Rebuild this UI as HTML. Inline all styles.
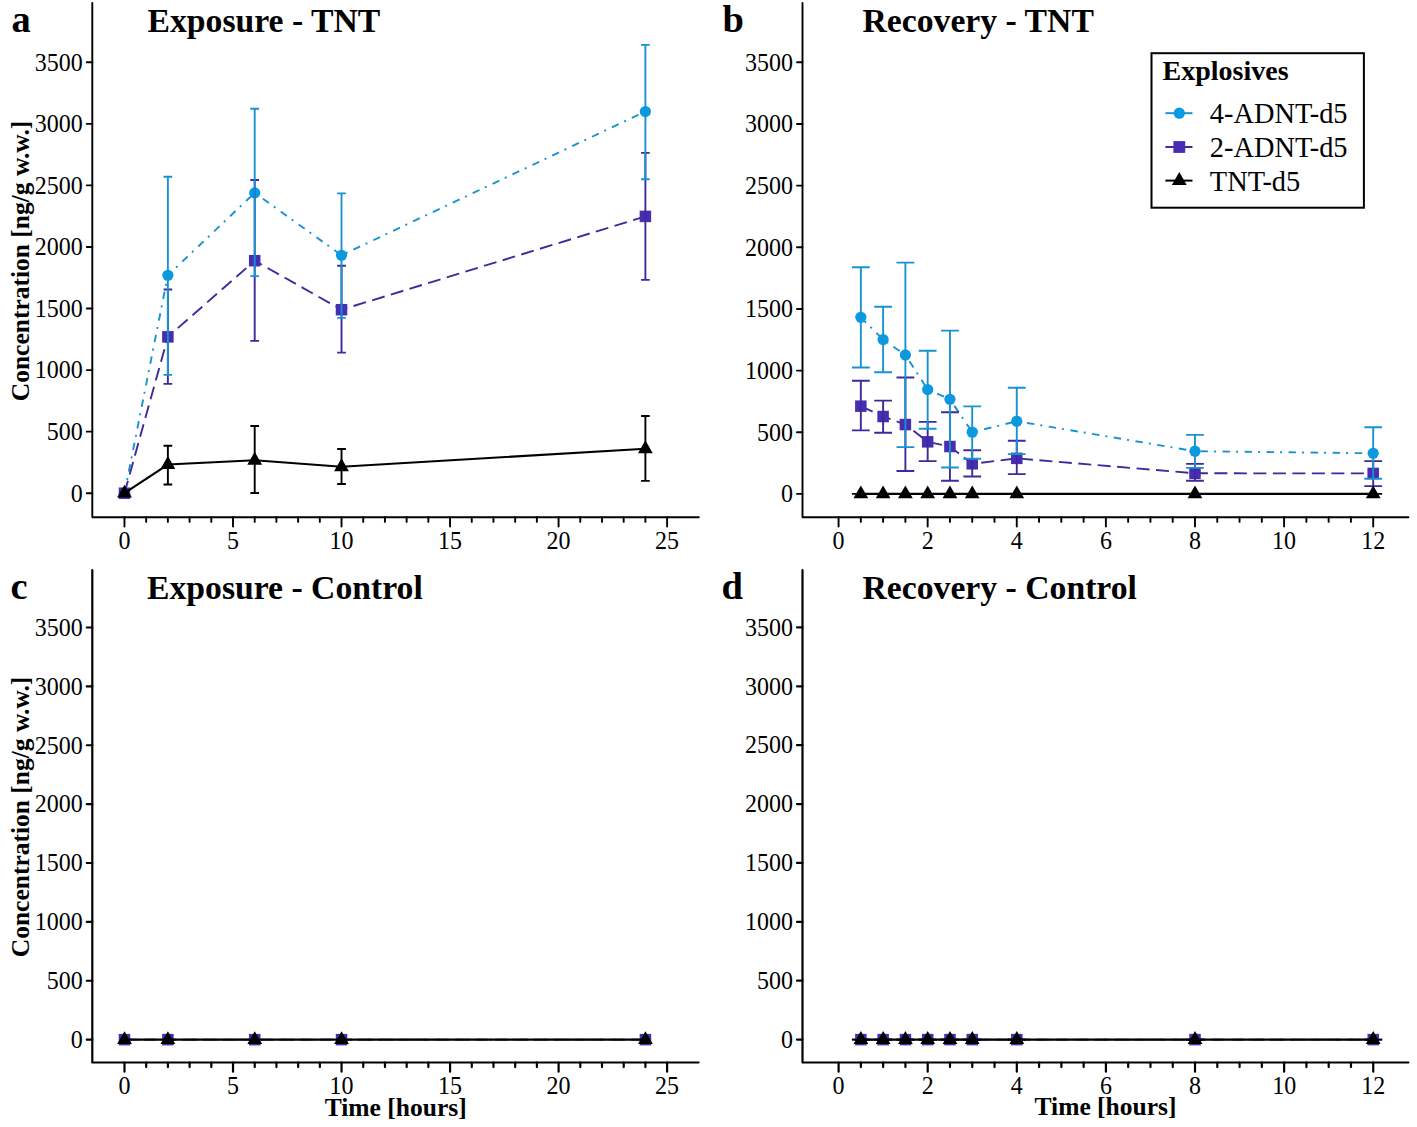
<!DOCTYPE html>
<html><head><meta charset="utf-8"><style>
html,body{margin:0;padding:0;background:#fff;}
svg{display:block;}
text{font-family:"Liberation Serif",serif;fill:#000;}
.tl{font-size:24px;}
.tt{font-size:33.7px;font-weight:bold;}
.pl{font-size:38.5px;font-weight:bold;}
.at{font-size:25.5px;font-weight:bold;}
.lt{font-size:28px;font-weight:bold;}
.ll{font-size:28.4px;}
</style></head><body>
<svg width="1417" height="1127" viewBox="0 0 1417 1127">
<rect width="1417" height="1127" fill="#fff"/>
<path d="M92.3 3V517.3H698.8" fill="none" stroke="#000" stroke-width="1.9" stroke-linecap="round" stroke-linejoin="round"/>
<path d="M86.8 493.2H92.3M86.8 431.64H92.3M86.8 370.09H92.3M86.8 308.53H92.3M86.8 246.97H92.3M86.8 185.41H92.3M86.8 123.86H92.3M86.8 62.3H92.3M124.47 517.3V526.5M146.18 517.3V521.9M167.88 517.3V521.9M189.58 517.3V521.9M211.29 517.3V521.9M233 517.3V526.5M254.7 517.3V521.9M276.4 517.3V521.9M298.11 517.3V521.9M319.81 517.3V521.9M341.52 517.3V526.5M363.23 517.3V521.9M384.93 517.3V521.9M406.63 517.3V521.9M428.34 517.3V521.9M450.04 517.3V526.5M471.75 517.3V521.9M493.45 517.3V521.9M515.16 517.3V521.9M536.87 517.3V521.9M558.57 517.3V526.5M580.27 517.3V521.9M601.98 517.3V521.9M623.68 517.3V521.9M645.39 517.3V521.9M667.1 517.3V526.5" stroke="#000" stroke-width="1.9" fill="none" stroke-linecap="round"/>
<text class="tl" text-anchor="end" transform="translate(82.7 501.5) scale(1 1.08)">0</text>
<text class="tl" text-anchor="end" transform="translate(82.7 439.94) scale(1 1.08)">500</text>
<text class="tl" text-anchor="end" transform="translate(82.7 378.39) scale(1 1.08)">1000</text>
<text class="tl" text-anchor="end" transform="translate(82.7 316.83) scale(1 1.08)">1500</text>
<text class="tl" text-anchor="end" transform="translate(82.7 255.27) scale(1 1.08)">2000</text>
<text class="tl" text-anchor="end" transform="translate(82.7 193.71) scale(1 1.08)">2500</text>
<text class="tl" text-anchor="end" transform="translate(82.7 132.16) scale(1 1.08)">3000</text>
<text class="tl" text-anchor="end" transform="translate(82.7 70.6) scale(1 1.08)">3500</text>
<text class="tl" text-anchor="middle" transform="translate(124.47 549.3) scale(1 1.08)">0</text>
<text class="tl" text-anchor="middle" transform="translate(233 549.3) scale(1 1.08)">5</text>
<text class="tl" text-anchor="middle" transform="translate(341.52 549.3) scale(1 1.08)">10</text>
<text class="tl" text-anchor="middle" transform="translate(450.04 549.3) scale(1 1.08)">15</text>
<text class="tl" text-anchor="middle" transform="translate(558.57 549.3) scale(1 1.08)">20</text>
<text class="tl" text-anchor="middle" transform="translate(667.1 549.3) scale(1 1.08)">25</text>
<polyline points="124.47,493.2 167.88,275.28 254.7,192.84 341.52,255.28 645.39,111.52" stroke="#1893cf" stroke-width="1.9" fill="none" stroke-dasharray="7.5 6 2 6.5"/>
<polyline points="124.47,493.2 167.88,336.85 254.7,260.71 341.52,309.7 645.39,216.41" stroke="#3d2a9c" stroke-width="1.9" fill="none" stroke-dasharray="13 6.5"/>
<circle cx="124.47" cy="493.2" r="5.6" fill="#089ae3"/><circle cx="167.88" cy="275.28" r="5.6" fill="#089ae3"/><circle cx="254.7" cy="192.84" r="5.6" fill="#089ae3"/><circle cx="341.52" cy="255.28" r="5.6" fill="#089ae3"/><circle cx="645.39" cy="111.52" r="5.6" fill="#089ae3"/>
<rect x="118.72" y="487.45" width="11.5" height="11.5" fill="#482cb2"/><rect x="162.13" y="331.1" width="11.5" height="11.5" fill="#482cb2"/><rect x="248.95" y="254.96" width="11.5" height="11.5" fill="#482cb2"/><rect x="335.77" y="303.95" width="11.5" height="11.5" fill="#482cb2"/><rect x="639.64" y="210.66" width="11.5" height="11.5" fill="#482cb2"/>
<path d="M120.12 493.2H128.82M120.12 493.2H128.82M167.88 289.47V383.87M163.53 289.47H172.23M163.53 383.87H172.23M254.7 180.01V340.92M250.35 180.01H259.05M250.35 340.92H259.05M341.52 265.77V352.65M337.17 265.77H345.87M337.17 352.65H345.87M645.39 152.86V279.84M641.04 152.86H649.74M641.04 279.84H649.74" stroke="#3d2a9c" stroke-width="1.9" fill="none"/>
<path d="M120.12 493.2H128.82M120.12 493.2H128.82M167.88 176.8V374.86M163.53 176.8H172.23M163.53 374.86H172.23M254.7 108.69V276.14M250.35 108.69H259.05M250.35 276.14H259.05M341.52 193.34V317.85M337.17 193.34H345.87M337.17 317.85H345.87M645.39 44.89V179.27M641.04 44.89H649.74M641.04 179.27H649.74" stroke="#1893cf" stroke-width="1.9" fill="none"/>
<path d="M120.12 493.2H128.82M120.12 493.2H128.82M167.88 445.81V484.56M163.53 445.81H172.23M163.53 484.56H172.23M254.7 426.07V492.95M250.35 426.07H259.05M250.35 492.95H259.05M341.52 449.02V484.07M337.17 449.02H345.87M337.17 484.07H345.87M645.39 415.95V480.86M641.04 415.95H649.74M641.04 480.86H649.74" stroke="#000000" stroke-width="1.9" fill="none"/>
<polyline points="124.47,493.2 167.88,464.57 254.7,460.25 341.52,466.79 645.39,448.78" stroke="#000000" stroke-width="2.1" fill="none"/>
<path d="M124.47 484.7L131.87 497.6L117.07 497.6ZM167.88 456.07L175.28 468.97L160.48 468.97ZM254.7 451.75L262.1 464.65L247.3 464.65ZM341.52 458.29L348.92 471.19L334.12 471.19ZM645.39 440.28L652.79 453.18L637.99 453.18Z" fill="#000000"/>
<path d="M802.5 3V517.3H1408.4" fill="none" stroke="#000" stroke-width="1.9" stroke-linecap="round" stroke-linejoin="round"/>
<path d="M797 493.9H802.5M797 432.24H802.5M797 370.59H802.5M797 308.93H802.5M797 247.27H802.5M797 185.61H802.5M797 123.96H802.5M797 62.3H802.5M838.56 517.3V526.5M860.84 517.3V521.9M883.11 517.3V521.9M905.39 517.3V521.9M927.67 517.3V526.5M949.94 517.3V521.9M972.22 517.3V521.9M994.5 517.3V521.9M1016.77 517.3V526.5M1039.05 517.3V521.9M1061.32 517.3V521.9M1083.6 517.3V521.9M1105.88 517.3V526.5M1128.15 517.3V521.9M1150.43 517.3V521.9M1172.71 517.3V521.9M1194.98 517.3V526.5M1217.26 517.3V521.9M1239.54 517.3V521.9M1261.81 517.3V521.9M1284.09 517.3V526.5M1306.37 517.3V521.9M1328.64 517.3V521.9M1350.92 517.3V521.9M1373.2 517.3V526.5" stroke="#000" stroke-width="1.9" fill="none" stroke-linecap="round"/>
<text class="tl" text-anchor="end" transform="translate(792.9 502.2) scale(1 1.08)">0</text>
<text class="tl" text-anchor="end" transform="translate(792.9 440.54) scale(1 1.08)">500</text>
<text class="tl" text-anchor="end" transform="translate(792.9 378.89) scale(1 1.08)">1000</text>
<text class="tl" text-anchor="end" transform="translate(792.9 317.23) scale(1 1.08)">1500</text>
<text class="tl" text-anchor="end" transform="translate(792.9 255.57) scale(1 1.08)">2000</text>
<text class="tl" text-anchor="end" transform="translate(792.9 193.91) scale(1 1.08)">2500</text>
<text class="tl" text-anchor="end" transform="translate(792.9 132.26) scale(1 1.08)">3000</text>
<text class="tl" text-anchor="end" transform="translate(792.9 70.6) scale(1 1.08)">3500</text>
<text class="tl" text-anchor="middle" transform="translate(838.56 549.3) scale(1 1.08)">0</text>
<text class="tl" text-anchor="middle" transform="translate(927.67 549.3) scale(1 1.08)">2</text>
<text class="tl" text-anchor="middle" transform="translate(1016.77 549.3) scale(1 1.08)">4</text>
<text class="tl" text-anchor="middle" transform="translate(1105.88 549.3) scale(1 1.08)">6</text>
<text class="tl" text-anchor="middle" transform="translate(1194.98 549.3) scale(1 1.08)">8</text>
<text class="tl" text-anchor="middle" transform="translate(1284.09 549.3) scale(1 1.08)">10</text>
<text class="tl" text-anchor="middle" transform="translate(1373.2 549.3) scale(1 1.08)">12</text>
<polyline points="860.84,317.31 883.11,339.53 905.39,354.95 927.67,389.5 949.94,399.25 972.22,432.2 1016.77,421.22 1194.98,451.2 1373.2,453.3" stroke="#1893cf" stroke-width="1.9" fill="none" stroke-dasharray="7.5 6 2 6.5"/>
<polyline points="860.84,406.16 883.11,416.53 905.39,424.55 927.67,441.83 949.94,446.51 972.22,463.79 1016.77,458.36 1194.98,473.29 1373.2,473.42" stroke="#3d2a9c" stroke-width="1.9" fill="none" stroke-dasharray="13 6.5"/>
<circle cx="860.84" cy="317.31" r="5.6" fill="#089ae3"/><circle cx="883.11" cy="339.53" r="5.6" fill="#089ae3"/><circle cx="905.39" cy="354.95" r="5.6" fill="#089ae3"/><circle cx="927.67" cy="389.5" r="5.6" fill="#089ae3"/><circle cx="949.94" cy="399.25" r="5.6" fill="#089ae3"/><circle cx="972.22" cy="432.2" r="5.6" fill="#089ae3"/><circle cx="1016.77" cy="421.22" r="5.6" fill="#089ae3"/><circle cx="1194.98" cy="451.2" r="5.6" fill="#089ae3"/><circle cx="1373.2" cy="453.3" r="5.6" fill="#089ae3"/>
<rect x="855.09" y="400.41" width="11.5" height="11.5" fill="#482cb2"/><rect x="877.36" y="410.78" width="11.5" height="11.5" fill="#482cb2"/><rect x="899.64" y="418.8" width="11.5" height="11.5" fill="#482cb2"/><rect x="921.92" y="436.08" width="11.5" height="11.5" fill="#482cb2"/><rect x="944.19" y="440.76" width="11.5" height="11.5" fill="#482cb2"/><rect x="966.47" y="458.04" width="11.5" height="11.5" fill="#482cb2"/><rect x="1011.02" y="452.61" width="11.5" height="11.5" fill="#482cb2"/><rect x="1189.23" y="467.54" width="11.5" height="11.5" fill="#482cb2"/><rect x="1367.45" y="467.67" width="11.5" height="11.5" fill="#482cb2"/>
<path d="M860.84 380.74V430.35M851.94 380.74H869.74M851.94 430.35H869.74M883.11 400.61V432.82M874.21 400.61H892.01M874.21 432.82H892.01M905.39 377.53V470.95M896.49 377.53H914.29M896.49 470.95H914.29M927.67 421.83V461.08M918.77 421.83H936.57M918.77 461.08H936.57M949.94 412.21V480.7M941.04 412.21H958.84M941.04 480.7H958.84M972.22 450.22V476.5M963.32 450.22H981.12M963.32 476.5H981.12M1016.77 440.71V474.16M1007.87 440.71H1025.67M1007.87 474.16H1025.67M1194.98 463.91V480.82M1186.08 463.91H1203.88M1186.08 480.82H1203.88M1373.2 461.08V486.13M1364.3 461.08H1382.1M1364.3 486.13H1382.1" stroke="#3d2a9c" stroke-width="1.9" fill="none"/>
<path d="M860.84 267.21V367.54M851.94 267.21H869.74M851.94 367.54H869.74M883.11 306.7V372.23M874.21 306.7H892.01M874.21 372.23H892.01M905.39 262.65V447.13M896.49 262.65H914.29M896.49 447.13H914.29M927.67 350.76V428.74M918.77 350.76H936.57M918.77 428.74H936.57M949.94 330.64V467.49M941.04 330.64H958.84M941.04 467.49H958.84M972.22 406.41V458.73M963.32 406.41H981.12M963.32 458.73H981.12M1016.77 387.78V454.17M1007.87 387.78H1025.67M1007.87 454.17H1025.67M1194.98 434.91V467.86M1186.08 434.91H1203.88M1186.08 467.86H1203.88M1373.2 427.26V478.72M1364.3 427.26H1382.1M1364.3 478.72H1382.1" stroke="#1893cf" stroke-width="1.9" fill="none"/>
<path d="M851.94 493.9H869.74M851.94 493.9H869.74M874.21 493.9H892.01M874.21 493.9H892.01M896.49 493.9H914.29M896.49 493.9H914.29M918.77 493.9H936.57M918.77 493.9H936.57M941.04 493.9H958.84M941.04 493.9H958.84M963.32 493.9H981.12M963.32 493.9H981.12M1007.87 493.9H1025.67M1007.87 493.9H1025.67M1186.08 493.9H1203.88M1186.08 493.9H1203.88M1364.3 493.9H1382.1M1364.3 493.9H1382.1" stroke="#000000" stroke-width="1.9" fill="none"/>
<polyline points="860.84,493.9 883.11,493.9 905.39,493.9 927.67,493.9 949.94,493.9 972.22,493.9 1016.77,493.9 1194.98,493.9 1373.2,493.9" stroke="#000000" stroke-width="2.1" fill="none"/>
<path d="M860.84 485.4L868.24 498.3L853.44 498.3ZM883.11 485.4L890.51 498.3L875.71 498.3ZM905.39 485.4L912.79 498.3L897.99 498.3ZM927.67 485.4L935.07 498.3L920.27 498.3ZM949.94 485.4L957.34 498.3L942.54 498.3ZM972.22 485.4L979.62 498.3L964.82 498.3ZM1016.77 485.4L1024.17 498.3L1009.37 498.3ZM1194.98 485.4L1202.38 498.3L1187.58 498.3ZM1373.2 485.4L1380.6 498.3L1365.8 498.3Z" fill="#000000"/>
<path d="M92.3 570.2V1062.5H698.6" fill="none" stroke="#000" stroke-width="2.2" stroke-linecap="round" stroke-linejoin="round"/>
<path d="M86.8 1039.65H92.3M86.8 980.77H92.3M86.8 921.89H92.3M86.8 863.01H92.3M86.8 804.14H92.3M86.8 745.26H92.3M86.8 686.38H92.3M86.8 627.5H92.3M124.5 1062.5V1071.7M146.2 1062.5V1067.1M167.91 1062.5V1067.1M189.62 1062.5V1067.1M211.32 1062.5V1067.1M233.02 1062.5V1071.7M254.73 1062.5V1067.1M276.44 1062.5V1067.1M298.14 1062.5V1067.1M319.84 1062.5V1067.1M341.55 1062.5V1071.7M363.25 1062.5V1067.1M384.96 1062.5V1067.1M406.66 1062.5V1067.1M428.37 1062.5V1067.1M450.07 1062.5V1071.7M471.78 1062.5V1067.1M493.48 1062.5V1067.1M515.19 1062.5V1067.1M536.89 1062.5V1067.1M558.6 1062.5V1071.7M580.3 1062.5V1067.1M602.01 1062.5V1067.1M623.71 1062.5V1067.1M645.42 1062.5V1067.1M667.12 1062.5V1071.7" stroke="#000" stroke-width="2.2" fill="none" stroke-linecap="round"/>
<text class="tl" text-anchor="end" transform="translate(82.7 1047.95) scale(1 1.08)">0</text>
<text class="tl" text-anchor="end" transform="translate(82.7 989.07) scale(1 1.08)">500</text>
<text class="tl" text-anchor="end" transform="translate(82.7 930.19) scale(1 1.08)">1000</text>
<text class="tl" text-anchor="end" transform="translate(82.7 871.31) scale(1 1.08)">1500</text>
<text class="tl" text-anchor="end" transform="translate(82.7 812.44) scale(1 1.08)">2000</text>
<text class="tl" text-anchor="end" transform="translate(82.7 753.56) scale(1 1.08)">2500</text>
<text class="tl" text-anchor="end" transform="translate(82.7 694.68) scale(1 1.08)">3000</text>
<text class="tl" text-anchor="end" transform="translate(82.7 635.8) scale(1 1.08)">3500</text>
<text class="tl" text-anchor="middle" transform="translate(124.5 1093.5) scale(1 1.08)">0</text>
<text class="tl" text-anchor="middle" transform="translate(233.02 1093.5) scale(1 1.08)">5</text>
<text class="tl" text-anchor="middle" transform="translate(341.55 1093.5) scale(1 1.08)">10</text>
<text class="tl" text-anchor="middle" transform="translate(450.07 1093.5) scale(1 1.08)">15</text>
<text class="tl" text-anchor="middle" transform="translate(558.6 1093.5) scale(1 1.08)">20</text>
<text class="tl" text-anchor="middle" transform="translate(667.12 1093.5) scale(1 1.08)">25</text>
<polyline points="124.5,1039.65 167.91,1039.65 254.73,1039.65 341.55,1039.65 645.42,1039.65" stroke="#1893cf" stroke-width="1.9" fill="none" stroke-dasharray="7.5 6 2 6.5"/>
<polyline points="124.5,1039.65 167.91,1039.65 254.73,1039.65 341.55,1039.65 645.42,1039.65" stroke="#3d2a9c" stroke-width="1.9" fill="none" stroke-dasharray="13 6.5"/>
<circle cx="124.5" cy="1039.65" r="5.6" fill="#089ae3"/><circle cx="167.91" cy="1039.65" r="5.6" fill="#089ae3"/><circle cx="254.73" cy="1039.65" r="5.6" fill="#089ae3"/><circle cx="341.55" cy="1039.65" r="5.6" fill="#089ae3"/><circle cx="645.42" cy="1039.65" r="5.6" fill="#089ae3"/>
<rect x="118.75" y="1033.9" width="11.5" height="11.5" fill="#482cb2"/><rect x="162.16" y="1033.9" width="11.5" height="11.5" fill="#482cb2"/><rect x="248.98" y="1033.9" width="11.5" height="11.5" fill="#482cb2"/><rect x="335.8" y="1033.9" width="11.5" height="11.5" fill="#482cb2"/><rect x="639.67" y="1033.9" width="11.5" height="11.5" fill="#482cb2"/>
<path d="M120.15 1039.65H128.85M120.15 1039.65H128.85M163.56 1039.65H172.26M163.56 1039.65H172.26M250.38 1039.65H259.08M250.38 1039.65H259.08M337.2 1039.65H345.9M337.2 1039.65H345.9M641.07 1039.65H649.77M641.07 1039.65H649.77" stroke="#3d2a9c" stroke-width="1.9" fill="none"/>
<path d="M120.15 1039.65H128.85M120.15 1039.65H128.85M163.56 1039.65H172.26M163.56 1039.65H172.26M250.38 1039.65H259.08M250.38 1039.65H259.08M337.2 1039.65H345.9M337.2 1039.65H345.9M641.07 1039.65H649.77M641.07 1039.65H649.77" stroke="#1893cf" stroke-width="1.9" fill="none"/>
<path d="M120.15 1039.65H128.85M120.15 1039.65H128.85M163.56 1039.65H172.26M163.56 1039.65H172.26M250.38 1039.65H259.08M250.38 1039.65H259.08M337.2 1039.65H345.9M337.2 1039.65H345.9M641.07 1039.65H649.77M641.07 1039.65H649.77" stroke="#000000" stroke-width="1.9" fill="none"/>
<polyline points="124.5,1039.65 167.91,1039.65 254.73,1039.65 341.55,1039.65 645.42,1039.65" stroke="#000000" stroke-width="2.1" fill="none"/>
<path d="M124.5 1031.15L131.9 1044.05L117.1 1044.05ZM167.91 1031.15L175.31 1044.05L160.51 1044.05ZM254.73 1031.15L262.13 1044.05L247.33 1044.05ZM341.55 1031.15L348.95 1044.05L334.15 1044.05ZM645.42 1031.15L652.82 1044.05L638.02 1044.05Z" fill="#000000"/>
<path d="M802.5 570.2V1062.5H1408.4" fill="none" stroke="#000" stroke-width="2.2" stroke-linecap="round" stroke-linejoin="round"/>
<path d="M797 1039.6H802.5M797 980.71H802.5M797 921.83H802.5M797 862.94H802.5M797 804.06H802.5M797 745.17H802.5M797 686.29H802.5M797 627.4H802.5M838.6 1062.5V1071.7M860.88 1062.5V1067.1M883.15 1062.5V1067.1M905.43 1062.5V1067.1M927.71 1062.5V1071.7M949.98 1062.5V1067.1M972.26 1062.5V1067.1M994.54 1062.5V1067.1M1016.81 1062.5V1071.7M1039.09 1062.5V1067.1M1061.37 1062.5V1067.1M1083.64 1062.5V1067.1M1105.92 1062.5V1071.7M1128.19 1062.5V1067.1M1150.47 1062.5V1067.1M1172.75 1062.5V1067.1M1195.02 1062.5V1071.7M1217.3 1062.5V1067.1M1239.58 1062.5V1067.1M1261.85 1062.5V1067.1M1284.13 1062.5V1071.7M1306.41 1062.5V1067.1M1328.68 1062.5V1067.1M1350.96 1062.5V1067.1M1373.24 1062.5V1071.7" stroke="#000" stroke-width="2.2" fill="none" stroke-linecap="round"/>
<text class="tl" text-anchor="end" transform="translate(792.9 1047.9) scale(1 1.08)">0</text>
<text class="tl" text-anchor="end" transform="translate(792.9 989.01) scale(1 1.08)">500</text>
<text class="tl" text-anchor="end" transform="translate(792.9 930.13) scale(1 1.08)">1000</text>
<text class="tl" text-anchor="end" transform="translate(792.9 871.24) scale(1 1.08)">1500</text>
<text class="tl" text-anchor="end" transform="translate(792.9 812.36) scale(1 1.08)">2000</text>
<text class="tl" text-anchor="end" transform="translate(792.9 753.47) scale(1 1.08)">2500</text>
<text class="tl" text-anchor="end" transform="translate(792.9 694.59) scale(1 1.08)">3000</text>
<text class="tl" text-anchor="end" transform="translate(792.9 635.7) scale(1 1.08)">3500</text>
<text class="tl" text-anchor="middle" transform="translate(838.6 1093.5) scale(1 1.08)">0</text>
<text class="tl" text-anchor="middle" transform="translate(927.71 1093.5) scale(1 1.08)">2</text>
<text class="tl" text-anchor="middle" transform="translate(1016.81 1093.5) scale(1 1.08)">4</text>
<text class="tl" text-anchor="middle" transform="translate(1105.92 1093.5) scale(1 1.08)">6</text>
<text class="tl" text-anchor="middle" transform="translate(1195.02 1093.5) scale(1 1.08)">8</text>
<text class="tl" text-anchor="middle" transform="translate(1284.13 1093.5) scale(1 1.08)">10</text>
<text class="tl" text-anchor="middle" transform="translate(1373.24 1093.5) scale(1 1.08)">12</text>
<polyline points="860.88,1039.6 883.15,1039.6 905.43,1039.6 927.71,1039.6 949.98,1039.6 972.26,1039.6 1016.81,1039.6 1195.02,1039.6 1373.24,1039.6" stroke="#1893cf" stroke-width="1.9" fill="none" stroke-dasharray="7.5 6 2 6.5"/>
<polyline points="860.88,1039.6 883.15,1039.6 905.43,1039.6 927.71,1039.6 949.98,1039.6 972.26,1039.6 1016.81,1039.6 1195.02,1039.6 1373.24,1039.6" stroke="#3d2a9c" stroke-width="1.9" fill="none" stroke-dasharray="13 6.5"/>
<circle cx="860.88" cy="1039.6" r="5.6" fill="#089ae3"/><circle cx="883.15" cy="1039.6" r="5.6" fill="#089ae3"/><circle cx="905.43" cy="1039.6" r="5.6" fill="#089ae3"/><circle cx="927.71" cy="1039.6" r="5.6" fill="#089ae3"/><circle cx="949.98" cy="1039.6" r="5.6" fill="#089ae3"/><circle cx="972.26" cy="1039.6" r="5.6" fill="#089ae3"/><circle cx="1016.81" cy="1039.6" r="5.6" fill="#089ae3"/><circle cx="1195.02" cy="1039.6" r="5.6" fill="#089ae3"/><circle cx="1373.24" cy="1039.6" r="5.6" fill="#089ae3"/>
<rect x="855.13" y="1033.85" width="11.5" height="11.5" fill="#482cb2"/><rect x="877.4" y="1033.85" width="11.5" height="11.5" fill="#482cb2"/><rect x="899.68" y="1033.85" width="11.5" height="11.5" fill="#482cb2"/><rect x="921.96" y="1033.85" width="11.5" height="11.5" fill="#482cb2"/><rect x="944.23" y="1033.85" width="11.5" height="11.5" fill="#482cb2"/><rect x="966.51" y="1033.85" width="11.5" height="11.5" fill="#482cb2"/><rect x="1011.06" y="1033.85" width="11.5" height="11.5" fill="#482cb2"/><rect x="1189.27" y="1033.85" width="11.5" height="11.5" fill="#482cb2"/><rect x="1367.49" y="1033.85" width="11.5" height="11.5" fill="#482cb2"/>
<path d="M851.98 1039.6H869.78M851.98 1039.6H869.78M874.25 1039.6H892.05M874.25 1039.6H892.05M896.53 1039.6H914.33M896.53 1039.6H914.33M918.81 1039.6H936.61M918.81 1039.6H936.61M941.08 1039.6H958.88M941.08 1039.6H958.88M963.36 1039.6H981.16M963.36 1039.6H981.16M1007.91 1039.6H1025.71M1007.91 1039.6H1025.71M1186.12 1039.6H1203.92M1186.12 1039.6H1203.92M1364.34 1039.6H1382.14M1364.34 1039.6H1382.14" stroke="#3d2a9c" stroke-width="1.9" fill="none"/>
<path d="M851.98 1039.6H869.78M851.98 1039.6H869.78M874.25 1039.6H892.05M874.25 1039.6H892.05M896.53 1039.6H914.33M896.53 1039.6H914.33M918.81 1039.6H936.61M918.81 1039.6H936.61M941.08 1039.6H958.88M941.08 1039.6H958.88M963.36 1039.6H981.16M963.36 1039.6H981.16M1007.91 1039.6H1025.71M1007.91 1039.6H1025.71M1186.12 1039.6H1203.92M1186.12 1039.6H1203.92M1364.34 1039.6H1382.14M1364.34 1039.6H1382.14" stroke="#1893cf" stroke-width="1.9" fill="none"/>
<path d="M851.98 1039.6H869.78M851.98 1039.6H869.78M874.25 1039.6H892.05M874.25 1039.6H892.05M896.53 1039.6H914.33M896.53 1039.6H914.33M918.81 1039.6H936.61M918.81 1039.6H936.61M941.08 1039.6H958.88M941.08 1039.6H958.88M963.36 1039.6H981.16M963.36 1039.6H981.16M1007.91 1039.6H1025.71M1007.91 1039.6H1025.71M1186.12 1039.6H1203.92M1186.12 1039.6H1203.92M1364.34 1039.6H1382.14M1364.34 1039.6H1382.14" stroke="#000000" stroke-width="1.9" fill="none"/>
<polyline points="860.88,1039.6 883.15,1039.6 905.43,1039.6 927.71,1039.6 949.98,1039.6 972.26,1039.6 1016.81,1039.6 1195.02,1039.6 1373.24,1039.6" stroke="#000000" stroke-width="2.1" fill="none"/>
<path d="M860.88 1031.1L868.28 1044L853.48 1044ZM883.15 1031.1L890.55 1044L875.75 1044ZM905.43 1031.1L912.83 1044L898.03 1044ZM927.71 1031.1L935.11 1044L920.31 1044ZM949.98 1031.1L957.38 1044L942.58 1044ZM972.26 1031.1L979.66 1044L964.86 1044ZM1016.81 1031.1L1024.21 1044L1009.41 1044ZM1195.02 1031.1L1202.42 1044L1187.62 1044ZM1373.24 1031.1L1380.64 1044L1365.84 1044Z" fill="#000000"/>
<text x="11.5" y="32.3" class="pl">a</text>
<text x="147.5" y="32" class="tt">Exposure - TNT</text>
<text x="722.5" y="32.3" class="pl">b</text>
<text x="862.5" y="32" class="tt">Recovery - TNT</text>
<text x="10.5" y="599" class="pl">c</text>
<text x="147" y="599" class="tt">Exposure - Control</text>
<text x="721.5" y="599" class="pl">d</text>
<text x="862.5" y="599" class="tt">Recovery - Control</text>
<text class="at" text-anchor="middle" transform="translate(28.7 261) rotate(-90)">Concentration [ng/g w.w.]</text>
<text class="at" text-anchor="middle" transform="translate(28.7 817) rotate(-90)">Concentration [ng/g w.w.]</text>
<text class="at" text-anchor="middle" x="395.7" y="1115.6">Time [hours]</text>
<text class="at" text-anchor="middle" x="1105.5" y="1115.4">Time [hours]</text>
<rect x="1151.5" y="53.2" width="212.4" height="154.5" fill="#fff" stroke="#000" stroke-width="2"/>
<text x="1162.5" y="79.8" class="lt">Explosives</text>
<path d="M1165.4 113.2H1192.5" stroke="#1893cf" stroke-width="2"/>
<circle cx="1179.3" cy="113.2" r="5.6" fill="#089ae3"/>
<text x="1209.8" y="123" class="ll">4-ADNT-d5</text>
<path d="M1165.4 147H1192.5" stroke="#3d2a9c" stroke-width="2"/>
<rect x="1173.4" y="141.1" width="11.8" height="11.8" fill="#482cb2"/>
<text x="1209.8" y="156.9" class="ll">2-ADNT-d5</text>
<path d="M1165.4 180.6H1192.5" stroke="#000000" stroke-width="2"/>
<path d="M1179.3 172.1L1186.7 185L1171.9 185Z" fill="#000"/>
<text x="1209.8" y="190.7" class="ll">TNT-d5</text>
</svg>
</body></html>
